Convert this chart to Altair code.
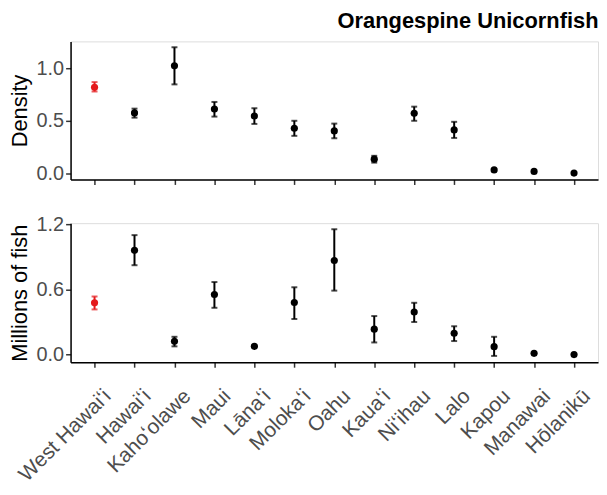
import altair as alt
import pandas as pd

islands = ["West Hawaiʻi", "Hawaiʻi", "Kahoʻolawe", "Maui", "Lānaʻi", "Molokaʻi",
           "Oahu", "Kauaʻi", "Niʻihau", "Lalo", "Kapou", "Manawai", "Hōlanikū"]
density = [0.82, 0.575, 1.025, 0.613, 0.546, 0.429, 0.403, 0.133, 0.571, 0.413, 0.03, 0.016, 0.0]
density_lo = [0.78, 0.53, 0.848, 0.54, 0.47, 0.356, 0.333, 0.10, 0.50, 0.336, 0.022, 0.011, 0.0]
density_hi = [0.87, 0.616, 1.203, 0.68, 0.62, 0.50, 0.473, 0.165, 0.635, 0.49, 0.038, 0.021, 0.0]
fish = [0.477, 0.96, 0.122, 0.553, 0.076, 0.48, 0.866, 0.234, 0.392, 0.197, 0.073, 0.012, 0.0]
fish_lo = [0.416, 0.823, 0.076, 0.431, 0.07, 0.328, 0.589, 0.112, 0.30, 0.125, -0.012, 0.008, 0.0]
fish_hi = [0.535, 1.10, 0.164, 0.668, 0.082, 0.62, 1.154, 0.355, 0.477, 0.261, 0.164, 0.016, 0.0]
group = ["West" if i == 0 else "Other" for i in range(len(islands))]

df = pd.DataFrame({
    "island": islands, "density": density, "dlo": density_lo, "dhi": density_hi,
    "fish": fish, "flo": fish_lo, "fhi": fish_hi, "group": group,
})

FONT = "Liberation Sans"
W = 531
color = alt.Color("group:N", scale=alt.Scale(domain=["West", "Other"], range=["#E41A1C", "#000000"]), legend=None)


def panel(val, lo, hi, title, domain, ticks, height, show_labels):
    xaxis = alt.Axis(
        title=None, labels=show_labels, labelAngle=-45, labelAlign="right", labelBaseline="top",
        labelFont=FONT, labelFontSize=21, labelColor="#4D4D4D", labelPadding=18, labelOffset=5,
        domainColor="black", domainWidth=1.5, tickColor="#333333", tickSize=5, tickWidth=1.5,
        grid=False, labelOverlap=False,
        **({} if show_labels else {"minExtent": 5, "maxExtent": 5}),
    )
    x = alt.X("island:N", sort=islands, scale=alt.Scale(type="point", padding=0.6), axis=xaxis)
    y_scale = alt.Scale(domain=domain, nice=False, zero=False)
    yaxis = alt.Axis(
        title=title, values=ticks, format=".1f", labelFont=FONT, labelFontSize=20,
        labelColor="#4D4D4D", labelPadding=2, titleFont=FONT, titleFontSize=22,
        titleFontWeight="normal", titleColor="black", titlePadding=6,
        minExtent=33, maxExtent=33,
        domainColor="black", domainWidth=1.5, tickColor="#333333", tickSize=5, tickWidth=1.5,
        grid=False,
    )
    base = alt.Chart(df)
    rule = base.mark_rule(strokeWidth=2).encode(
        x=x, y=alt.Y(f"{lo}:Q", scale=y_scale, axis=yaxis), y2=f"{hi}:Q", color=color)
    cap_lo = base.mark_tick(size=6, thickness=2).encode(x=x, y=alt.Y(f"{lo}:Q", scale=y_scale), color=color)
    cap_hi = base.mark_tick(size=6, thickness=2).encode(x=x, y=alt.Y(f"{hi}:Q", scale=y_scale), color=color)
    pts = base.mark_circle(size=52, opacity=1).encode(x=x, y=alt.Y(f"{val}:Q", scale=y_scale), color=color)
    return alt.layer(rule, cap_lo, cap_hi, pts).properties(width=W, height=height)


top = panel("density", "dlo", "dhi", "Density", [-0.061, 1.259], [0.0, 0.5, 1.0], 139, False)
bottom = panel("fish", "flo", "fhi", "Millions of fish", [-0.07, 1.21], [0.0, 0.6, 1.2], 140, True)

chart = alt.vconcat(top, bottom, spacing=27).properties(
    padding=0,
    title=alt.TitleParams("Orangespine Unicornfish", anchor="end", font=FONT, fontSize=22,
                          fontWeight="bold", color="black", offset=8)
).configure_view(stroke=None).configure(background="white")

chart.save("out.html", embed_options={"renderer": "svg", "actions": False})
